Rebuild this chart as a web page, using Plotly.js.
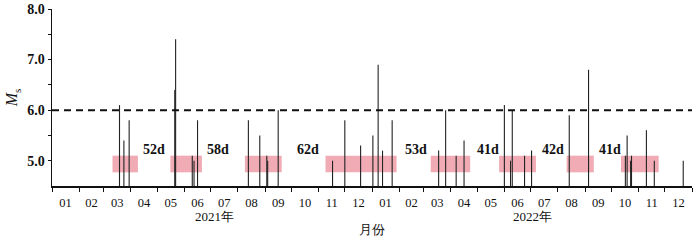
<!DOCTYPE html>
<html>
<head>
<meta charset="utf-8">
<script src="https://cdn.plot.ly/plotly-3.0.1.min.js"></script>
<style>html,body{margin:0;padding:0;background:#fff;}#chart{width:700px;height:241px;}</style>
</head>
<body>
<div id="chart"></div>
<script>
// Earthquake dates and magnitudes (Ms)
const eventDates = [
  '2021-03-19','2021-03-24','2021-03-30','2021-05-21','2021-05-22','2021-06-10','2021-06-12','2021-06-16',
  '2021-08-13','2021-08-26','2021-09-03','2021-09-04','2021-09-16','2021-11-17','2021-12-01','2021-12-19',
  '2022-01-02','2022-01-08','2022-01-13','2022-01-24','2022-03-18','2022-03-26','2022-04-07','2022-04-16',
  '2022-06-01','2022-06-08','2022-06-10','2022-06-24','2022-07-02','2022-08-14','2022-09-05',
  '2022-10-17','2022-10-19','2022-10-23','2022-10-24','2022-11-10','2022-11-19','2022-12-22'
];
const eventMags = [
  6.1,5.4,5.8,6.4,7.4,5.1,5.0,5.8,
  5.8,5.5,5.1,5.0,6.0,5.0,5.8,5.3,
  5.5,6.9,5.2,5.8,5.2,6.0,5.1,5.4,
  6.1,5.0,6.0,5.1,5.2,5.9,6.8,
  5.1,5.5,5.0,5.1,5.6,5.0,5.0
];
const baseMag = 4.5;
const thresholdMag = 6.0;

// Highlighted windows (pink boxes)
const boxStart = ['2021-03-11','2021-05-16','2021-08-09','2021-11-09','2022-03-09','2022-05-26','2022-08-11','2022-10-12'];
const boxEnd   = ['2021-04-09','2021-06-21','2021-09-20','2022-01-29','2022-04-23','2022-07-07','2022-09-11','2022-11-24'];
const boxLow = 4.77;
const boxHigh = 5.1;

// Interval labels
const gapLabels = ['52d','58d','62d','53d','41d','42d','41d'];
const gapDates = ['2021-04-27','2021-07-09','2021-10-20','2022-02-20','2022-05-13','2022-07-27','2022-09-29'];
const gapLabelY = 5.23;

const yearLabels = ['2021年','2022年'];
const yearDates = ['2021-07-05','2022-07-03'];

const stemX = [], stemY = [];
eventDates.forEach((d, i) => {
  stemX.push(d, d, null);
  stemY.push(baseMag, eventMags[i], null);
});

const font = 'Liberation Serif, Times New Roman, serif';

const traces = [{
  type: 'scatter', mode: 'lines', x: stemX, y: stemY,
  line: {color: '#222', width: 1.1}, hoverinfo: 'skip', showlegend: false
}];

const shapes = boxStart.map((s, i) => ({
  type: 'rect', xref: 'x', yref: 'y', x0: s, x1: boxEnd[i], y0: boxLow, y1: boxHigh,
  fillcolor: 'rgba(236,150,162,0.8)', line: {width: 0}, layer: 'below'
}));
shapes.push({
  type: 'line', xref: 'paper', yref: 'y', x0: 0, x1: 1, y0: thresholdMag, y1: thresholdMag,
  line: {color: '#111', width: 2, dash: '7px,5px'}, layer: 'above'
});

const annotations = gapLabels.map((t, i) => ({
  x: gapDates[i], y: gapLabelY, xref: 'x', yref: 'y', text: t, showarrow: false,
  font: {family: font, size: 14, color: '#111', weight: 'bold'}
}));
yearLabels.forEach((t, i) => annotations.push({
  x: yearDates[i], y: -0.17, xref: 'x', yref: 'paper', text: t, showarrow: false,
  yanchor: 'middle', font: {family: font, size: 13, color: '#111'}
}));
annotations.push({
  x: 0.5, y: -0.243, xref: 'paper', yref: 'paper', text: '月份', showarrow: false,
  yanchor: 'middle', font: {family: font, size: 13, color: '#111'}
});

const layout = {
  width: 700, height: 241,
  margin: {l: 52, r: 8, t: 9, b: 55},
  paper_bgcolor: '#fff', plot_bgcolor: '#fff',
  showlegend: false,
  xaxis: {
    type: 'date', range: ['2021-01-01', '2023-01-01'],
    dtick: 'M1', tick0: '2021-01-01', tickformat: '%m', ticklabelmode: 'period',
    ticks: 'outside', ticklen: 4, tickwidth: 1, tickcolor: '#111',
    showline: true, linecolor: '#111', linewidth: 1.5, showgrid: false, zeroline: false,
    tickfont: {family: font, size: 12.5, color: '#111'}
  },
  yaxis: {
    range: [4.5, 8.0], tickvals: [5, 6, 7, 8], ticktext: ['5.0','6.0','7.0','8.0'],
    ticks: 'outside', ticklen: 3, tickwidth: 1, tickcolor: '#111',
    minor: {tickvals: [5.5, 6.5, 7.5], ticks: 'outside', ticklen: 3, tickcolor: '#111'},
    showline: true, linecolor: '#111', linewidth: 1.5, showgrid: false, zeroline: false,
    tickfont: {family: font, size: 14, color: '#111', weight: 'bold'},
    title: {text: '<i>M</i><sub>s</sub>', font: {family: font, size: 16, color: '#111'}, standoff: 5}
  },
  shapes: shapes,
  annotations: annotations
};

Plotly.newPlot('chart', traces, layout, {displayModeBar: false, staticPlot: true});
</script>
</body>
</html>
